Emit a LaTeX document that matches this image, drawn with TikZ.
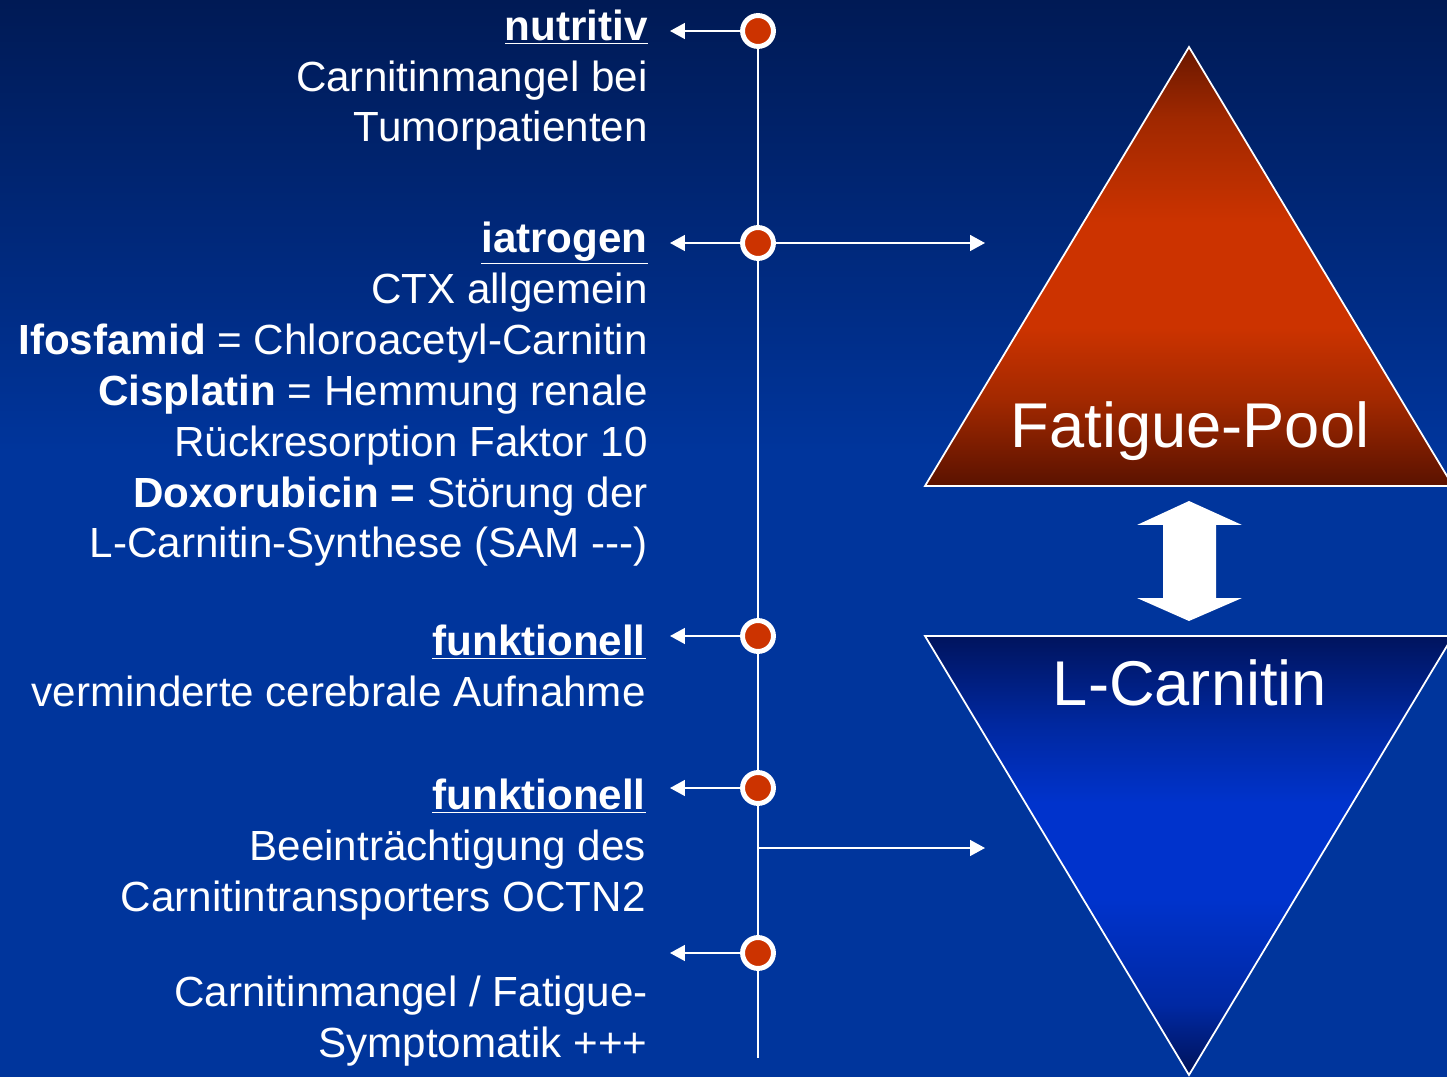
\documentclass[tikz,border=0pt]{standalone}
\usepackage{fontspec}
\setmainfont{Liberation Sans}
\usetikzlibrary{arrows.meta, positioning}
\definecolor{bgtop}{HTML}{001A55}
\definecolor{bgbot}{HTML}{00359C}
\definecolor{dotred}{HTML}{CC3300}
\definecolor{pooltop}{HTML}{6A1800}
\definecolor{poolmid}{HTML}{CC3300}
\definecolor{poolbot}{HTML}{5A1200}
\definecolor{carntop}{HTML}{00145E}
\definecolor{carnmid}{HTML}{0033CC}
\definecolor{carnbot}{HTML}{001258}
\pgfdeclareverticalshading{poolshade}{100bp}{color(0bp)=(poolbot); color(25bp)=(poolbot);
  color(35bp)=(poolmid!80!black); color(43bp)=(poolmid); color(55bp)=(poolmid);
  color(67bp)=(poolmid!78!black); color(75bp)=(pooltop); color(100bp)=(pooltop)}
\pgfdeclareverticalshading{carnshade}{100bp}{color(0bp)=(carnbot); color(25bp)=(carnbot);
  color(33bp)=(carnmid!80!black); color(45bp)=(carnmid); color(56bp)=(carnmid);
  color(65bp)=(carnmid!78!black); color(75bp)=(carntop); color(100bp)=(carntop)}
\tikzset{
  conn/.style={white, line width=1.1pt},
  arr/.style={conn, -{Triangle[length=8.5pt,width=9pt]}},
  dot/.style={circle, fill=dotred, draw=white, line width=2.8pt, minimum size=17.6pt, inner sep=0pt},
  txt/.style={text=white, align=right, inner sep=0pt, anchor=base east, font=\fontsize{24}{29}\selectfont},
  big/.style={text=white, inner sep=0pt, anchor=base, font=\fontsize{36}{40}\selectfont}
}
\begin{document}
\begin{tikzpicture}[x=0.02cm, y=-0.02cm]
\useasboundingbox (0,0) rectangle (1447,1077);
% background
\fill[top color=bgtop, bottom color=bgbot] (0,0) rectangle (1447,452);
\fill[bgbot] (0,450) rectangle (1447,1077);
% triangles
\draw[white, line width=1pt, shading=poolshade] (1189,47) -- (1453,486) -- (925,486) -- cycle;
\draw[white, line width=1pt, shading=carnshade] (925,636) -- (1453,636) -- (1189,1075) -- cycle;
\node[big] (pool) at (1190,448) {Fatigue-Pool};
\node[big] (carn) at (1190,705) {L-Carnitin};
% double arrow
\fill[white] (1189,501) -- (1242,525) -- (1216,525) -- (1216,598) -- (1242,598) -- (1189,621)
  -- (1137,598) -- (1163,598) -- (1163,525) -- (1137,525) -- cycle;
% time line
\foreach \n/\y in {1/31,2/243,3/636,4/788,5/953}{
  \node[dot] (d\n) at (758,\y) {};
  \coordinate (t\n) at (670,\y);
}
\coordinate (dbot) at (758,1058);
\coordinate (j) at (758,848);
\coordinate (r2) at (985,243);
\coordinate (rj) at (985,848);
\foreach \a/\b in {1/2,2/3,3/4,4/5,5/bot} \draw[conn] (d\a) -- (d\b);
\foreach \n in {1,...,5} \draw[arr] (d\n) -- (t\n);
\draw[arr] (d2) -- (r2);
\draw[arr] (j) -- (rj);
% texts (anchored at the baseline of the last line)
\node[txt] (nutr) at (648,142) {\textbf{\underline{nutritiv}}\\Carnitinmangel bei\\Tumorpatienten};
\node[txt] (iatr) at (648,558) {\textbf{\underline{iatrogen}}\\CTX allgemein\\
  \textbf{Ifosfamid} = Chloroacetyl-Carnitin\\\textbf{Cisplatin} = Hemmung renale\\
  Rückresorption Faktor 10\\\textbf{Doxorubicin =} Störung der\\L-Carnitin-Synthese (SAM -{}-{}-)};
\node[txt] (funk) at (646,706) {\textbf{\underline{funktionell}}\\verminderte cerebrale Aufnahme};
\node[txt] (trans) at (646,911) {\textbf{\underline{funktionell}}\\Beeinträchtigung des\\Carnitintransporters OCTN2};
\node[txt] (sympt) at (648,1057) {Carnitinmangel / Fatigue-\\Symptomatik +++};
\end{tikzpicture}
\end{document}
